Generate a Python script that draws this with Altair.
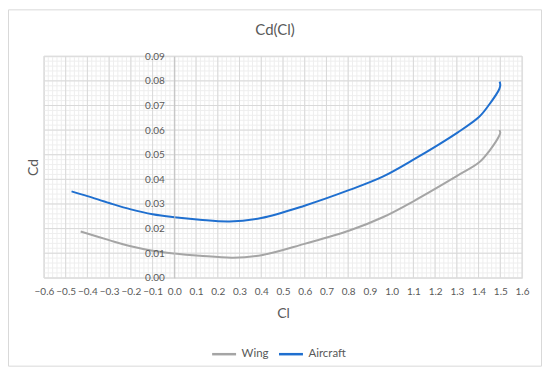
import altair as alt
import numpy as np
import pandas as pd

# ---- data ----
aircraft_cl = [-0.473, -0.40, -0.30, -0.20, -0.10, 0.0, 0.117, 0.254, 0.40, 0.599, 0.806,
               0.959, 1.104, 1.303, 1.403, 1.45, 1.495, 1.50, 1.497]
aircraft_cd = [0.0351, 0.0332, 0.0304, 0.0278, 0.0258, 0.0246, 0.0236, 0.0229, 0.0243, 0.0293, 0.0357,
               0.0411, 0.0482, 0.0590, 0.0654, 0.0705, 0.0766, 0.0783, 0.0797]

wing_cl = [-0.431, -0.30, -0.20, -0.10, 0.0, 0.117, 0.27, 0.407, 0.599, 0.806,
           0.959, 1.104, 1.303, 1.403, 1.45, 1.495, 1.50, 1.496]
wing_cd = [0.0188, 0.0153, 0.0128, 0.0110, 0.0099, 0.0090, 0.0082, 0.0093, 0.0138, 0.0192,
           0.0246, 0.0313, 0.0415, 0.0469, 0.0516, 0.0577, 0.0590, 0.0600]

series_names = ["Wing", "Aircraft"]
series_colors = ["#a5a5a5", "#1f6fcf"]

x_ticks = [round(v, 1) for v in np.arange(-0.6, 1.6001, 0.1)]
y_ticks = [round(v, 2) for v in np.arange(0.0, 0.0901, 0.01)]

rows = []
for i, (c, d) in enumerate(zip(wing_cl, wing_cd)):
    rows.append({"series": "Wing", "Cl": c, "Cd": d, "idx": i})
for i, (c, d) in enumerate(zip(aircraft_cl, aircraft_cd)):
    rows.append({"series": "Aircraft", "Cl": c, "Cd": d, "idx": i})
df = pd.DataFrame(rows)

minor_x = pd.DataFrame({"Cl": [round(v, 2) for v in np.arange(-0.6, 1.6001, 0.02)]})
minor_y = pd.DataFrame({"Cd": [round(v, 3) for v in np.arange(0.0, 0.0901, 0.002)]})
major_x = pd.DataFrame({"Cl": x_ticks})
major_y = pd.DataFrame({"Cd": y_ticks})

W, H = 479, 222
FONT = "Lato"
TXT = "#595959"

xscale = alt.Scale(domain=[-0.6, 1.6], nice=False, zero=False)
yscale = alt.Scale(domain=[0.0, 0.09], nice=False)

x_axis = alt.Axis(title="Cl", values=x_ticks, format=".1f", grid=False,
                  ticks=False, domain=False, labelPadding=9,
                  labelOverlap=False, labelFlush=False, labelBound=False,
                  labelFont=FONT, labelFontSize=10, labelColor=TXT,
                  titleFont=FONT, titleFontSize=14, titleColor=TXT,
                  titleFontWeight="normal", titleX=W / 2, titleY=36,
                  titleBaseline="middle", titleAlign="center")
y_axis = alt.Axis(title="Cd", values=y_ticks, format=".2f", grid=False,
                  ticks=False, domain=True, domainColor="#bfbfbf",
                  offset=-130.6, labelPadding=10, zindex=1,
                  labelOverlap=False, labelFlush=False, labelBound=False,
                  labelFont=FONT, labelFontSize=10, labelColor=TXT,
                  titleFont=FONT, titleFontSize=14, titleColor=TXT,
                  titleFontWeight="normal", titleX=-140.6, titleY=H / 2,
                  titleAngle=-90, titleBaseline="middle", titleAlign="center")

X = lambda: alt.X("Cl:Q", scale=xscale, axis=x_axis)
Y = lambda: alt.Y("Cd:Q", scale=yscale, axis=y_axis)

frame = alt.Chart(alt.Data(values=[{}])).mark_rect(
    fill="white", fillOpacity=0, stroke="#d9d9d9", strokeWidth=1
).encode(
    x=alt.value(-35.5), x2=alt.value(W + 19.5),
    y=alt.value(-46.5), y2=alt.value(H + 88.5)
)

minor_v = alt.Chart(minor_x).mark_rule(color="#eeeeee", strokeWidth=1).encode(x=X())
minor_h = alt.Chart(minor_y).mark_rule(color="#eeeeee", strokeWidth=1).encode(y=Y())
major_v = alt.Chart(major_x).mark_rule(color="#d9d9d9", strokeWidth=1).encode(x=X())
major_h = alt.Chart(major_y).mark_rule(color="#d9d9d9", strokeWidth=1).encode(y=Y())

lines = alt.Chart(df).mark_line(interpolate="catmull-rom", strokeWidth=2).encode(
    x=X(),
    y=Y(),
    color=alt.Color("series:N",
                    scale=alt.Scale(domain=series_names, range=series_colors),
                    legend=alt.Legend(title=None, orient="none", direction="horizontal",
                                      legendX=167, legendY=285,
                                      symbolType="stroke", symbolSize=576,
                                      symbolStrokeWidth=2.5, labelFont=FONT,
                                      labelFontSize=11.5, labelColor=TXT,
                                      labelOffset=4, columnPadding=4)),
    order=alt.Order("idx:Q"),
)

chart = alt.layer(frame, minor_v, minor_h, major_v, major_h, lines).properties(
    width=W, height=H,
    title=alt.Title("Cd(Cl)", font=FONT, fontSize=15, fontWeight="normal",
                    color=TXT, offset=14, dx=-8, dy=43),
    autosize=alt.AutoSizeParams(type="none"),
    padding={"left": 36, "top": 48, "right": 20, "bottom": 89},
).configure_view(stroke=None).configure(background="white")

chart.save("out.html", embed_options={"renderer": "svg", "actions": False})
